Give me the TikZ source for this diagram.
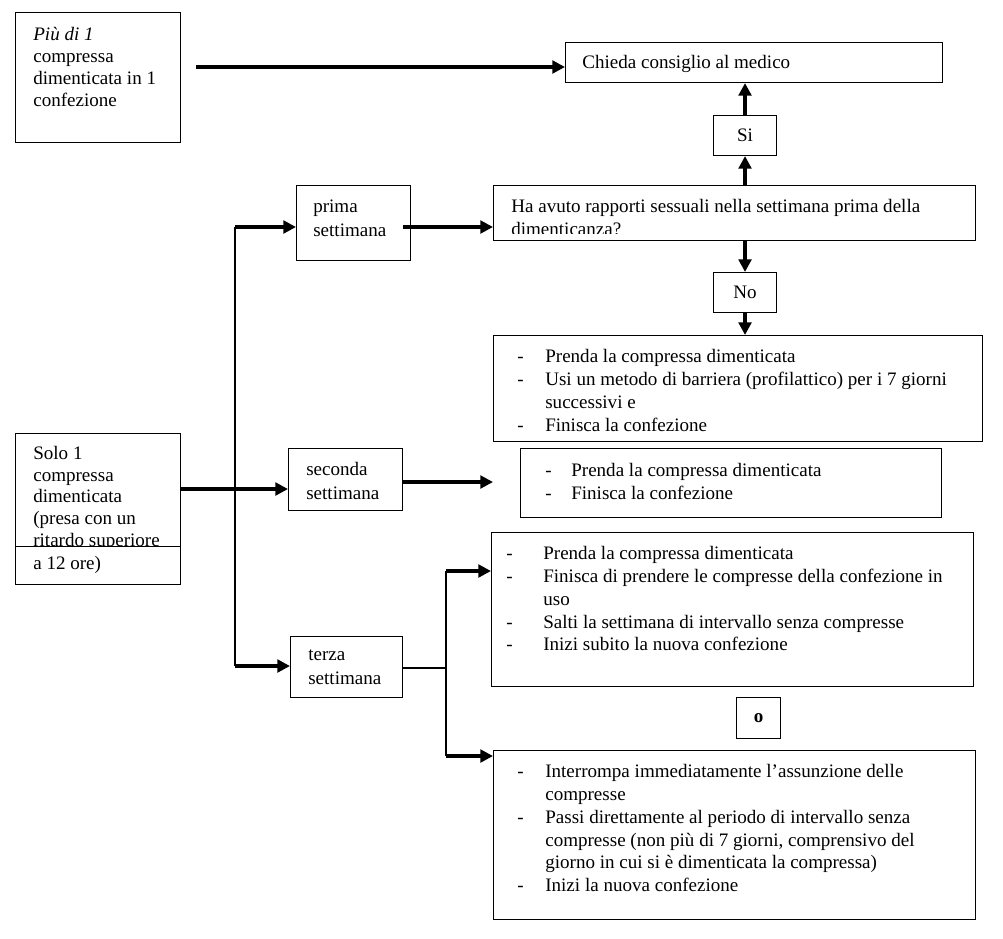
\documentclass[tikz,border=0pt]{standalone}
\usepackage{fontspec}
\setmainfont{Liberation Serif}
\usetikzlibrary{arrows.meta}
\newdimen\px \px=0.63pt
\newlength\dashw
\newcommand{\itm}[1]{\makebox[\dashw][l]{-}#1}
\newcommand{\cont}[1]{\hspace*{\dashw}#1}

\begin{document}
\begin{tikzpicture}[x=0.63pt, y=-0.63pt,
  box/.style={draw, line width=0.65pt, anchor=north west, inner sep=0pt, font=\fontsize{12}{14.4}\selectfont},
  txt/.style={anchor=north west, inner sep=0pt, align=left, font=\fontsize{12}{14.4}\selectfont, execute at begin node=\strut},
  lst/.style={txt, execute at begin node={\setlength\dashw{#1\px}\strut}},
  narrow/.style={font=\fontsize{12}{13.7}\selectfont},
  week/.style={font=\fontsize{12}{15.2}\selectfont},
  arr/.style={-{Triangle[length=8pt,width=8pt]}, line width=2pt},
  wire/.style={line width=0.7pt}]
\useasboundingbox (0,0) rectangle (1003,938);

% Boxes
\node[box, minimum width=165\px, minimum height=130\px] (piu) at (15,12) {};
\node[box, minimum width=377\px, minimum height=40\px] (chieda) at (565,42) {};
\node[box, minimum width=63\px, minimum height=40\px] (si) at (713,115) {Si};
\node[box, minimum width=482\px, minimum height=55\px] (ha) at (493,185) {};
\node[box, minimum width=63\px, minimum height=40\px] (no) at (713,272) {No};
\node[box, minimum width=489\px, minimum height=106\px] (p1) at (493,335) {};
\node[box, minimum width=114\px, minimum height=75\px] (prima) at (296,185) {};
\node[box, minimum width=114\px, minimum height=62\px] (seconda) at (288,448) {};
\node[box, minimum width=421\px, minimum height=69\px] (p2) at (520,448) {};
\node[box, minimum width=165\px, minimum height=151\px] (solo) at (15,433) {};
\node[box, minimum width=112\px, minimum height=61\px] (terza) at (290,636) {};
\node[box, minimum width=482\px, minimum height=154\px] (p3) at (491,532) {};
\node[box, minimum width=44\px, minimum height=41\px, font=\fontsize{12}{14.4}\selectfont\bfseries] (obox) at (736,697) {o};
\node[box, minimum width=482\px, minimum height=169\px] (p4) at (493,750) {};
\draw[wire] ([yshift=-113.7\px]solo.north west) -- ([yshift=-113.7\px]solo.north east);

% Texts
\node[txt, font=\fontsize{12}{14}\selectfont] (piutxt) at (33,26.5) {\textit{Più di 1}\\compressa\\dimenticata in 1\\confezione};
\node[txt] (chiedatxt) at (582,52) {Chieda consiglio al medico};
\begin{scope}
\clip (ha.north west) rectangle ([yshift=8\px]ha.south east);
\node[txt] (hatxt) at (511,199) {Ha avuto rapporti sessuali nella settimana prima della\\dimenticanza?};
\end{scope}
\node[lst=28] (p1txt) at (517,349) {\itm{Prenda la compressa dimenticata}\\
  \itm{Usi un metodo di barriera (profilattico) per i 7 giorni}\\
  \cont{successivi e}\\
  \itm{Finisca la confezione}};
\node[txt, week] (primatxt) at (313,199.8) {prima\\settimana};
\node[txt, week] (secondatxt) at (306,462) {seconda\\settimana};
\node[lst=26] (p2txt) at (545,463) {\itm{Prenda la compressa dimenticata}\\
  \itm{Finisca la confezione}};
\begin{scope}
\clip (solo.north west) rectangle ([yshift=-113.7\px]solo.north east);
\node[txt, narrow] (solotxt) at (33,445.8) {Solo 1\\compressa\\dimenticata\\(presa con un\\ritardo superiore};
\end{scope}
\node[txt, narrow] (oretxt) at (33,553.8) {a 12 ore)};
\node[txt, week] (terzatxt) at (308,649.8) {terza\\settimana};
\node[lst=37] (p3txt) at (506,546) {\itm{Prenda la compressa dimenticata}\\
  \itm{Finisca di prendere le compresse della confezione in}\\
  \cont{uso}\\
  \itm{Salti la settimana di intervallo senza compresse}\\
  \itm{Inizi subito la nuova confezione}};
\node[lst=28] (p4txt) at (517,764) {\itm{Interrompa immediatamente l’assunzione delle}\\
  \cont{compresse}\\
  \itm{Passi direttamente al periodo di intervallo senza}\\
  \cont{compresse (non più di 7 giorni, comprensivo del}\\
  \cont{giorno in cui si è dimenticata la compressa)}\\
  \itm{Inizi la nuova confezione}};

% Connectors
\coordinate (piuout) at (196,67);
\draw[arr] (piuout) -- (piuout -| chieda.west);
\draw[arr] (si.north) -- (si.north |- chieda.south);
\draw[arr] (si.south |- ha.north) -- (si.south);
\draw[arr] (no.north |- ha.south) -- (no.north);
\draw[arr] (no.south) -- (no.south |- p1.north);

\coordinate (trunktop) at (235,227);
\coordinate (trunkbot) at (235,666);
\draw[wire] (trunktop) -- (trunkbot);
\draw[arr] (trunktop) -- (trunktop -| prima.west);
\draw[arr] (trunkbot) -- (trunkbot -| terza.west);
\coordinate (primaout) at ([xshift=-8\px]prima.east |- trunktop);
\draw[arr] (primaout) -- (primaout -| ha.west);

\coordinate (secin) at (180,489);
\draw[arr] (solo.east |- secin) -- (secin -| seconda.west);
\coordinate (secout) at (493,482);
\draw[arr] (seconda.east |- secout) -- (secout);

\coordinate (fork) at (446,668);
\coordinate (forktop) at (446,571);
\coordinate (forkbot) at (446,756);
\draw[wire] (terza.east |- fork) -- (fork);
\draw[wire] (forktop) -- (forkbot);
\draw[arr] (forktop) -- (forktop -| p3.west);
\draw[arr] (forkbot) -- (forkbot -| p4.west);
\end{tikzpicture}
\end{document}
